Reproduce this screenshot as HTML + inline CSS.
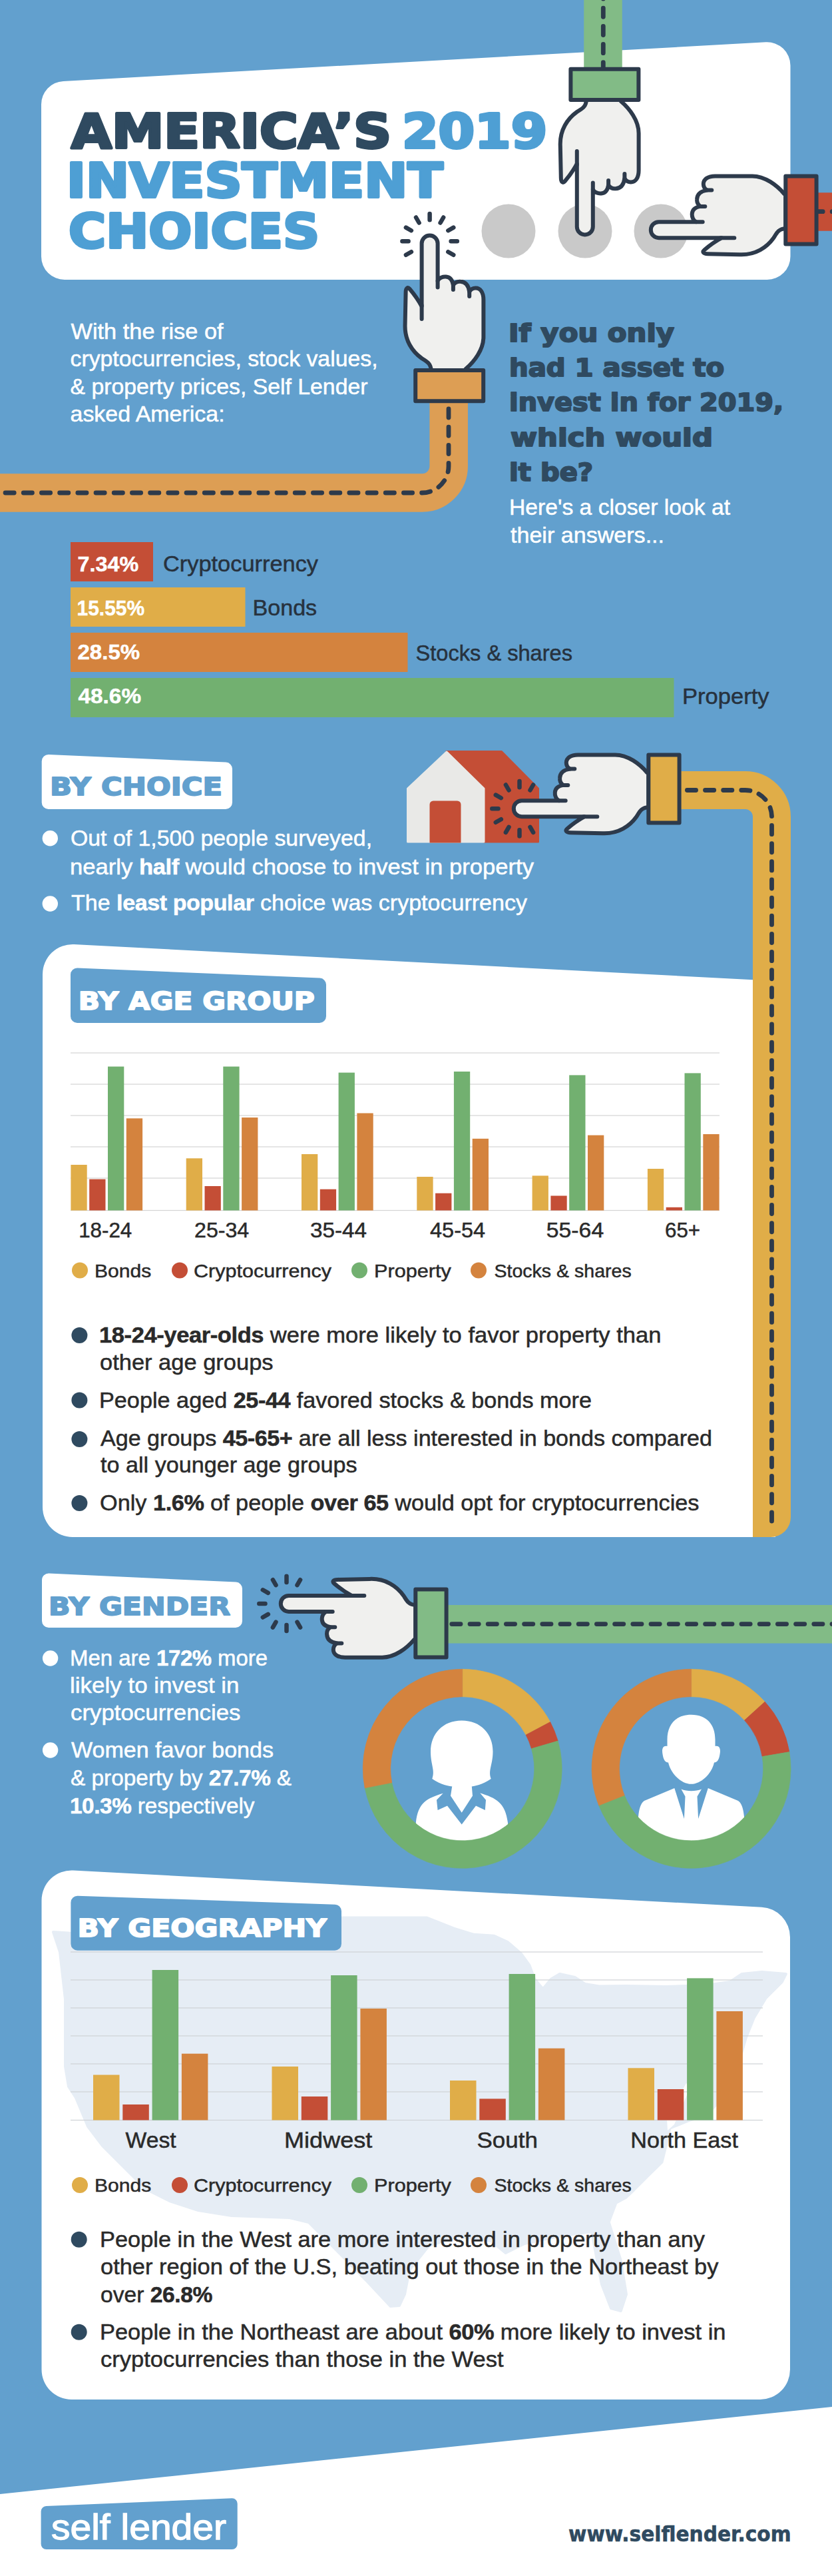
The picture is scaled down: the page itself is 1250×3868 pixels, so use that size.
<!DOCTYPE html>
<html lang="en"><head><meta charset="utf-8"><title>America's 2019 Investment Choices</title>
<style>html,body{margin:0;padding:0;background:#62a0ce}svg{display:block}</style></head>
<body>
<svg width="1250" height="3868" viewBox="0 0 1250 3868" role="img" aria-label="America's 2019 investment choices infographic">
<rect width="1250" height="3868" fill="#62a0ce"/>
<path d="M62.0,156.8 A35.0,35.0 0 0 1 95.1,121.9 L1150.6,63.3 A35.0,35.0 0 0 1 1187.5,98.2 L1187.5,385.0 A35.0,35.0 0 0 1 1152.5,420.0 L97.0,420.0 A35.0,35.0 0 0 1 62.0,385.0 Z" fill="#fff"/>
<circle cx="764" cy="347" r="40.5" fill="#c9c9c9"/>
<circle cx="879" cy="347" r="40.5" fill="#c9c9c9"/>
<circle cx="993" cy="347" r="40.5" fill="#c9c9c9"/>
<text x="107.00" y="221.5" font-family="'DejaVu Sans', 'Liberation Sans', sans-serif" font-size="71.5" fill="#2f4a60" font-weight="bold" textLength="481.01" lengthAdjust="spacingAndGlyphs" stroke="#2f4a60" stroke-width="4" stroke-linejoin="round">AMERICA’S</text>
<text x="604.00" y="221.5" font-family="'DejaVu Sans', 'Liberation Sans', sans-serif" font-size="71.5" fill="#4e9fd4" font-weight="bold" textLength="218.24" lengthAdjust="spacingAndGlyphs" stroke="#4e9fd4" stroke-width="4" stroke-linejoin="round">2019</text>
<text x="100.00" y="296.0" font-family="'DejaVu Sans', 'Liberation Sans', sans-serif" font-size="71.5" fill="#4e9fd4" font-weight="bold" textLength="565.53" lengthAdjust="spacingAndGlyphs" stroke="#4e9fd4" stroke-width="4" stroke-linejoin="round">INVESTMENT</text>
<text x="103.00" y="372.0" font-family="'DejaVu Sans', 'Liberation Sans', sans-serif" font-size="71.5" fill="#4e9fd4" font-weight="bold" textLength="377.07" lengthAdjust="spacingAndGlyphs" stroke="#4e9fd4" stroke-width="4" stroke-linejoin="round">CHOICES</text>
<path d="M906,-30 L906,110" fill="none" stroke="#82bb86" stroke-width="57.5"/>
<path d="M906.3,-42.3 L906.3,110" fill="none" stroke="#2d3a4b" stroke-width="6.8" stroke-linecap="round" stroke-dasharray="13.2 14"/>
<path d="M1270,317.9 L1225,317.9" fill="none" stroke="#c44e36" stroke-width="57.5"/>
<path d="M1263.4,317.7 L1222,317.7" fill="none" stroke="#2d3a4b" stroke-width="6.8" stroke-linecap="round" stroke-dasharray="13.2 14"/>
<path d="M674.2,590 L674.2,700 A40,40 0 0 1 634.2,740 L-20,740" fill="none" stroke="#dd9e54" stroke-width="57.5"/>
<path d="M674,586.7 L674,700 A40,40 0 0 1 634,740 L-20,740" fill="none" stroke="#2d3a4b" stroke-width="6.8" stroke-linecap="round" stroke-dasharray="13.2 14"/>
<g transform="matrix(1,0,0,-1,878.8,153)">
<path d="M2,3 C2,-8 -6,-11 -12,-15 C-26,-25 -38,-42 -37,-66 L-36,-114 C-36,-121 -33,-122.5 -30,-119 Q-19,-106 -12,-93 L-12,-187.5 A12,12 0 0 1 12,-187.5 L12,-131.3 C14,-136 20,-138 24.5,-137.5 C30,-137 34,-133 35.3,-125 C38,-129 42,-130.5 46,-130.2 C53,-130 58,-126 59.6,-115 C62,-119 66,-120.5 69,-120.5 C76,-120.5 80.8,-114 80.8,-103 L80.8,-47 C80.8,-28 67,-10 54,1 L54,3 Z" fill="#f0f0ee" stroke="#2d3a4b" stroke-width="6" stroke-linejoin="round"/>
<path d="M-12,-94.5 L-12,-74 M12,-131.3 L12,-121.6 M35.3,-125 L35.3,-118 M59.6,-115 L59.6,-108" fill="none" stroke="#2d3a4b" stroke-width="6" stroke-linecap="round"/>
<rect x="-21.4" y="3" width="102" height="46.3" fill="#82bb86" stroke="#2d3a4b" stroke-width="6" stroke-linejoin="round"/>
</g>
<g transform="matrix(0,-1,1,0,1177.3,345.2)">
<path d="M2,3 C2,-8 -6,-11 -12,-15 C-26,-25 -38,-42 -37,-66 L-36,-114 C-36,-121 -33,-122.5 -30,-119 Q-19,-106 -12,-93 L-12,-187.5 A12,12 0 0 1 12,-187.5 L12,-131.3 C14,-136 20,-138 24.5,-137.5 C30,-137 34,-133 35.3,-125 C38,-129 42,-130.5 46,-130.2 C53,-130 58,-126 59.6,-115 C62,-119 66,-120.5 69,-120.5 C76,-120.5 80.8,-114 80.8,-103 L80.8,-47 C80.8,-28 67,-10 54,1 L54,3 Z" fill="#f0f0ee" stroke="#2d3a4b" stroke-width="6" stroke-linejoin="round"/>
<path d="M-12,-94.5 L-12,-74 M12,-131.3 L12,-121.6 M35.3,-125 L35.3,-118 M59.6,-115 L59.6,-108" fill="none" stroke="#2d3a4b" stroke-width="6" stroke-linecap="round"/>
<rect x="-21.4" y="3" width="102" height="46.3" fill="#c44e36" stroke="#2d3a4b" stroke-width="6" stroke-linejoin="round"/>
</g>
<g transform="matrix(1,0,0,1,645.6,553)">
<path d="M2,3 C2,-8 -6,-11 -12,-15 C-26,-25 -38,-42 -37,-66 L-36,-114 C-36,-121 -33,-122.5 -30,-119 Q-19,-106 -12,-93 L-12,-187.5 A12,12 0 0 1 12,-187.5 L12,-131.3 C14,-136 20,-138 24.5,-137.5 C30,-137 34,-133 35.3,-125 C38,-129 42,-130.5 46,-130.2 C53,-130 58,-126 59.6,-115 C62,-119 66,-120.5 69,-120.5 C76,-120.5 80.8,-114 80.8,-103 L80.8,-47 C80.8,-28 67,-10 54,1 L54,3 Z" fill="#f0f0ee" stroke="#2d3a4b" stroke-width="6" stroke-linejoin="round"/>
<path d="M-12,-94.5 L-12,-74 M12,-131.3 L12,-121.6 M35.3,-125 L35.3,-118 M59.6,-115 L59.6,-108" fill="none" stroke="#2d3a4b" stroke-width="6" stroke-linecap="round"/>
<rect x="-21.4" y="3" width="102" height="46.3" fill="#dd9e54" stroke="#2d3a4b" stroke-width="6" stroke-linejoin="round"/>
<path d="M-27.7,-174.8 L-35.7,-170.2 M-32.0,-190.8 L-41.2,-190.8 M-27.7,-206.8 L-35.7,-211.4 M-16.0,-218.5 L-20.6,-226.5 M0.0,-222.8 L0.0,-232.0 M16.0,-218.5 L20.6,-226.5 M27.7,-206.8 L35.7,-211.4 M32.0,-190.8 L41.2,-190.8 M27.7,-174.8 L35.7,-170.2" fill="none" stroke="#2d3a4b" stroke-width="6.5" stroke-linecap="round"/>
</g>
<text x="106.50" y="508.5" font-family="'Liberation Sans', Arial, sans-serif" font-size="32.5" fill="#fff" textLength="229.07" lengthAdjust="spacingAndGlyphs" stroke="#fff" stroke-width="0.5">With the rise of</text>
<text x="105.50" y="550.1" font-family="'Liberation Sans', Arial, sans-serif" font-size="32.5" fill="#fff" textLength="462.04" lengthAdjust="spacingAndGlyphs" stroke="#fff" stroke-width="0.5">cryptocurrencies, stock values,</text>
<text x="105.50" y="591.7" font-family="'Liberation Sans', Arial, sans-serif" font-size="32.5" fill="#fff" textLength="447.00" lengthAdjust="spacingAndGlyphs" stroke="#fff" stroke-width="0.5">&amp; property prices, Self Lender</text>
<text x="105.50" y="633.3" font-family="'Liberation Sans', Arial, sans-serif" font-size="32.5" fill="#fff" textLength="232.07" lengthAdjust="spacingAndGlyphs" stroke="#fff" stroke-width="0.5">asked America:</text>
<text x="764.00" y="513.2" font-family="'DejaVu Sans', 'Liberation Sans', sans-serif" font-size="36.8" fill="#2f4a60" font-weight="bold" textLength="249.04" lengthAdjust="spacingAndGlyphs" stroke="#2f4a60" stroke-width="2" stroke-linejoin="round">If you only</text>
<text x="765.00" y="565.3" font-family="'DejaVu Sans', 'Liberation Sans', sans-serif" font-size="36.8" fill="#2f4a60" font-weight="bold" textLength="323.03" lengthAdjust="spacingAndGlyphs" stroke="#2f4a60" stroke-width="2" stroke-linejoin="round">had 1 asset to</text>
<text x="765.00" y="617.4" font-family="'DejaVu Sans', 'Liberation Sans', sans-serif" font-size="36.8" fill="#2f4a60" font-weight="bold" textLength="412.06" lengthAdjust="spacingAndGlyphs" stroke="#2f4a60" stroke-width="2" stroke-linejoin="round">invest in for 2019,</text>
<text x="767.00" y="669.5" font-family="'DejaVu Sans', 'Liberation Sans', sans-serif" font-size="36.8" fill="#2f4a60" font-weight="bold" textLength="304.01" lengthAdjust="spacingAndGlyphs" stroke="#2f4a60" stroke-width="2" stroke-linejoin="round">which would</text>
<text x="765.00" y="721.6" font-family="'DejaVu Sans', 'Liberation Sans', sans-serif" font-size="36.8" fill="#2f4a60" font-weight="bold" textLength="126.12" lengthAdjust="spacingAndGlyphs" stroke="#2f4a60" stroke-width="2" stroke-linejoin="round">it be?</text>
<text x="765.00" y="772.5" font-family="'Liberation Sans', Arial, sans-serif" font-size="32.5" fill="#fff" textLength="332.01" lengthAdjust="spacingAndGlyphs" stroke="#fff" stroke-width="0.5">Here&#x27;s a closer look at</text>
<text x="767.00" y="814.5" font-family="'Liberation Sans', Arial, sans-serif" font-size="32.5" fill="#fff" textLength="231.04" lengthAdjust="spacingAndGlyphs" stroke="#fff" stroke-width="0.5">their answers...</text>
<rect x="106" y="814" width="124.0" height="59" fill="#c44e36"/>
<text x="116.50" y="857.7" font-family="'Liberation Sans', Arial, sans-serif" font-size="32.0" fill="#fff" font-weight="bold" textLength="91.64" lengthAdjust="spacingAndGlyphs" stroke="#fff" stroke-width="0.5">7.34%</text>
<text x="245.00" y="858.0" font-family="'Liberation Sans', Arial, sans-serif" font-size="32.5" fill="#27323e" textLength="233.00" lengthAdjust="spacingAndGlyphs" stroke="#27323e" stroke-width="0.5">Cryptocurrency</text>
<rect x="106" y="882" width="262.5" height="59" fill="#e0ad48"/>
<text x="115.50" y="924.0" font-family="'Liberation Sans', Arial, sans-serif" font-size="32.0" fill="#fff" font-weight="bold" textLength="101.69" lengthAdjust="spacingAndGlyphs" stroke="#fff" stroke-width="0.5">15.55%</text>
<text x="379.50" y="924.0" font-family="'Liberation Sans', Arial, sans-serif" font-size="32.5" fill="#27323e" textLength="96.66" lengthAdjust="spacingAndGlyphs" stroke="#27323e" stroke-width="0.5">Bonds</text>
<rect x="106" y="950" width="506.5" height="59" fill="#d4833e"/>
<text x="116.50" y="990.0" font-family="'Liberation Sans', Arial, sans-serif" font-size="32.0" fill="#fff" font-weight="bold" textLength="93.65" lengthAdjust="spacingAndGlyphs" stroke="#fff" stroke-width="0.5">28.5%</text>
<text x="624.50" y="991.6" font-family="'Liberation Sans', Arial, sans-serif" font-size="32.5" fill="#27323e" textLength="235.54" lengthAdjust="spacingAndGlyphs" stroke="#27323e" stroke-width="0.5">Stocks &amp; shares</text>
<rect x="106" y="1018" width="906.5" height="59" fill="#72b070"/>
<text x="117.50" y="1056.0" font-family="'Liberation Sans', Arial, sans-serif" font-size="32.0" fill="#fff" font-weight="bold" textLength="94.56" lengthAdjust="spacingAndGlyphs" stroke="#fff" stroke-width="0.5">48.6%</text>
<text x="1025.00" y="1057.0" font-family="'Liberation Sans', Arial, sans-serif" font-size="32.5" fill="#27323e" textLength="130.56" lengthAdjust="spacingAndGlyphs" stroke="#27323e" stroke-width="0.5">Property</text>
<path d="M62.7,1143.0 A10.0,10.0 0 0 1 73.1,1133.1 L339.4,1144.6 A10.0,10.0 0 0 1 349.0,1154.6 L349.0,1205.0 A10.0,10.0 0 0 1 339.0,1215.0 L72.7,1215.0 A10.0,10.0 0 0 1 62.7,1205.0 Z" fill="#fff"/>
<text x="75.00" y="1194.0" font-family="'DejaVu Sans', 'Liberation Sans', sans-serif" font-size="37.2" fill="#62a0ce" font-weight="bold" textLength="259.10" lengthAdjust="spacingAndGlyphs" stroke="#62a0ce" stroke-width="1.8" stroke-linejoin="round">BY CHOICE</text>
<circle cx="75.3" cy="1258.8" r="11.7" fill="#fff"/>
<circle cx="75.3" cy="1357" r="11.7" fill="#fff"/>
<text x="106.00" y="1270.4" font-family="'Liberation Sans', Arial, sans-serif" font-size="32.5" fill="#fff" textLength="453.04" lengthAdjust="spacingAndGlyphs" stroke="#fff" stroke-width="0.5">Out of 1,500 people surveyed,</text>
<text x="105.00" y="1312.8" font-family="'Liberation Sans', Arial, sans-serif" font-size="32.5" fill="#fff" textLength="697.01" lengthAdjust="spacingAndGlyphs" stroke="#fff" stroke-width="0.5">nearly <tspan font-weight="bold" letter-spacing="-0.4">half</tspan> would choose to invest in property</text>
<text x="107.00" y="1367.0" font-family="'Liberation Sans', Arial, sans-serif" font-size="32.5" fill="#fff" textLength="685.00" lengthAdjust="spacingAndGlyphs" stroke="#fff" stroke-width="0.5">The <tspan font-weight="bold" letter-spacing="-0.4">least popular</tspan> choice was cryptocurrency</text>
<path d="M671,1128.5 L753.5,1128.5 L808.5,1184 L808.5,1264 L727,1264 L727,1183 Z" fill="#c44e36" stroke="#c44e36" stroke-width="3" stroke-linejoin="round"/>
<path d="M671,1129 L727,1184 L727,1264 L612.5,1264 L612.5,1184 Z" fill="#e9e9e7" stroke="#e9e9e7" stroke-width="3" stroke-linejoin="round"/>
<path d="M645.5,1265.5 L645.5,1208 a5.5,5.5 0 0 1 5.5,-5.5 L687,1202.5 a5.5,5.5 0 0 1 5.5,5.5 L692.5,1265.5 Z" fill="#c44e36"/>
<path d="M1020,1186.5 L1119.5,1186.5 A40,40 0 0 1 1159.5,1226.5 L1159.5,1480" fill="none" stroke="#e0ad48" stroke-width="57"/>
<g transform="matrix(0,-1,1,0,971.3,1214.2)">
<path d="M2,3 C2,-8 -6,-11 -12,-15 C-26,-25 -38,-42 -37,-66 L-36,-114 C-36,-121 -33,-122.5 -30,-119 Q-19,-106 -12,-93 L-12,-187.5 A12,12 0 0 1 12,-187.5 L12,-131.3 C14,-136 20,-138 24.5,-137.5 C30,-137 34,-133 35.3,-125 C38,-129 42,-130.5 46,-130.2 C53,-130 58,-126 59.6,-115 C62,-119 66,-120.5 69,-120.5 C76,-120.5 80.8,-114 80.8,-103 L80.8,-47 C80.8,-28 67,-10 54,1 L54,3 Z" fill="#f0f0ee" stroke="#2d3a4b" stroke-width="6" stroke-linejoin="round"/>
<path d="M-12,-94.5 L-12,-74 M12,-131.3 L12,-121.6 M35.3,-125 L35.3,-118 M59.6,-115 L59.6,-108" fill="none" stroke="#2d3a4b" stroke-width="6" stroke-linecap="round"/>
<rect x="-21.4" y="3" width="102" height="46.3" fill="#e0ad48" stroke="#2d3a4b" stroke-width="6" stroke-linejoin="round"/>
<path d="M-27.7,-174.8 L-35.7,-170.2 M-32.0,-190.8 L-41.2,-190.8 M-27.7,-206.8 L-35.7,-211.4 M-16.0,-218.5 L-20.6,-226.5 M0.0,-222.8 L0.0,-232.0 M16.0,-218.5 L20.6,-226.5 M27.7,-206.8 L35.7,-211.4 M32.0,-190.8 L41.2,-190.8 M27.7,-174.8 L35.7,-170.2" fill="none" stroke="#2d3a4b" stroke-width="6.5" stroke-linecap="round"/>
</g>
<path d="M64.0,1462.9 A45.0,45.0 0 0 1 111.3,1418.0 L1165.0,1473.0 L1165.0,2308.0 L109.0,2308.0 A45.0,45.0 0 0 1 64.0,2263.0 Z" fill="#fff"/>
<path d="M1131,1440 L1188,1440 L1188,2278 A30,30 0 0 1 1158,2308 L1131,2308 Z" fill="#e0ad48"/>
<path d="M1159.5,2284 L1159.5,1226.5 A40,40 0 0 0 1119.5,1186.5 L1032.4,1186.5" fill="none" stroke="#2d3a4b" stroke-width="6.8" stroke-linecap="round" stroke-dasharray="13.2 13.94"/>
<path d="M106.0,1463.4 A10.0,10.0 0 0 1 116.4,1453.4 L480.4,1468.6 A10.0,10.0 0 0 1 490.0,1478.6 L490.0,1526.0 A10.0,10.0 0 0 1 480.0,1536.0 L116.0,1536.0 A10.0,10.0 0 0 1 106.0,1526.0 Z" fill="#62a0ce"/>
<text x="117.80" y="1516.0" font-family="'DejaVu Sans', 'Liberation Sans', sans-serif" font-size="37.2" fill="#fff" font-weight="bold" textLength="355.04" lengthAdjust="spacingAndGlyphs" stroke="#fff" stroke-width="1.8" stroke-linejoin="round">BY AGE GROUP</text>
<rect x="106" y="1580.4" width="975" height="1.2" fill="#d4d4d4"/>
<rect x="106" y="1627.4" width="975" height="1.2" fill="#d4d4d4"/>
<rect x="106" y="1674.4" width="975" height="1.2" fill="#d4d4d4"/>
<rect x="106" y="1721.4" width="975" height="1.2" fill="#d4d4d4"/>
<rect x="106" y="1768.4" width="975" height="1.2" fill="#d4d4d4"/>
<rect x="106" y="1816.9" width="975" height="1.2" fill="#d4d4d4"/>
<rect x="106.4" y="1749.0" width="24.3" height="68.5" fill="#e0ad48"/>
<rect x="134.2" y="1770.6" width="24.3" height="46.9" fill="#c44e36"/>
<rect x="162.0" y="1601.5" width="24.3" height="216.0" fill="#72b070"/>
<rect x="189.8" y="1679.3" width="24.3" height="138.2" fill="#d4833e"/>
<text x="118.20" y="1858.0" font-family="'Liberation Sans', Arial, sans-serif" font-size="31.0" fill="#2a2a2a" textLength="79.99" lengthAdjust="spacingAndGlyphs" stroke="#2a2a2a" stroke-width="0.5">18-24</text>
<rect x="279.7" y="1739.3" width="24.3" height="78.2" fill="#e0ad48"/>
<rect x="307.5" y="1781.0" width="24.3" height="36.5" fill="#c44e36"/>
<rect x="335.3" y="1601.5" width="24.3" height="216.0" fill="#72b070"/>
<rect x="363.1" y="1678.0" width="24.3" height="139.5" fill="#d4833e"/>
<text x="292.00" y="1858.0" font-family="'Liberation Sans', Arial, sans-serif" font-size="31.0" fill="#2a2a2a" textLength="82.25" lengthAdjust="spacingAndGlyphs" stroke="#2a2a2a" stroke-width="0.5">25-34</text>
<rect x="453.0" y="1733.0" width="24.3" height="84.5" fill="#e0ad48"/>
<rect x="480.8" y="1785.7" width="24.3" height="31.8" fill="#c44e36"/>
<rect x="508.6" y="1610.6" width="24.3" height="206.9" fill="#72b070"/>
<rect x="536.4" y="1671.5" width="24.3" height="146.0" fill="#d4833e"/>
<text x="465.90" y="1858.0" font-family="'Liberation Sans', Arial, sans-serif" font-size="31.0" fill="#2a2a2a" textLength="85.17" lengthAdjust="spacingAndGlyphs" stroke="#2a2a2a" stroke-width="0.5">35-44</text>
<rect x="626.3" y="1767.0" width="24.3" height="50.5" fill="#e0ad48"/>
<rect x="654.1" y="1791.7" width="24.3" height="25.8" fill="#c44e36"/>
<rect x="681.9" y="1609.0" width="24.3" height="208.5" fill="#72b070"/>
<rect x="709.7" y="1709.8" width="24.3" height="107.7" fill="#d4833e"/>
<text x="646.00" y="1858.0" font-family="'Liberation Sans', Arial, sans-serif" font-size="31.0" fill="#2a2a2a" textLength="83.12" lengthAdjust="spacingAndGlyphs" stroke="#2a2a2a" stroke-width="0.5">45-54</text>
<rect x="799.6" y="1765.4" width="24.3" height="52.1" fill="#e0ad48"/>
<rect x="827.4" y="1795.5" width="24.3" height="22.0" fill="#c44e36"/>
<rect x="855.2" y="1614.4" width="24.3" height="203.1" fill="#72b070"/>
<rect x="883.0" y="1704.6" width="24.3" height="112.9" fill="#d4833e"/>
<text x="820.80" y="1858.0" font-family="'Liberation Sans', Arial, sans-serif" font-size="31.0" fill="#2a2a2a" textLength="86.37" lengthAdjust="spacingAndGlyphs" stroke="#2a2a2a" stroke-width="0.5">55-64</text>
<rect x="972.9" y="1755.0" width="24.3" height="62.5" fill="#e0ad48"/>
<rect x="1000.7" y="1812.8" width="24.3" height="4.7" fill="#c44e36"/>
<rect x="1028.5" y="1611.4" width="24.3" height="206.1" fill="#72b070"/>
<rect x="1056.3" y="1703.0" width="24.3" height="114.5" fill="#d4833e"/>
<text x="999.10" y="1858.0" font-family="'Liberation Sans', Arial, sans-serif" font-size="31.0" fill="#2a2a2a" textLength="53.05" lengthAdjust="spacingAndGlyphs" stroke="#2a2a2a" stroke-width="0.5">65+</text>
<circle cx="120" cy="1907.5" r="12" fill="#e0ad48"/>
<text x="142.00" y="1917.5" font-family="'Liberation Sans', Arial, sans-serif" font-size="28.5" fill="#2a2a2a" textLength="85.22" lengthAdjust="spacingAndGlyphs" stroke="#2a2a2a" stroke-width="0.5">Bonds</text>
<circle cx="270" cy="1907.5" r="12" fill="#c44e36"/>
<text x="291.00" y="1917.5" font-family="'Liberation Sans', Arial, sans-serif" font-size="28.5" fill="#2a2a2a" textLength="207.06" lengthAdjust="spacingAndGlyphs" stroke="#2a2a2a" stroke-width="0.5">Cryptocurrency</text>
<circle cx="540" cy="1907.5" r="12" fill="#72b070"/>
<text x="562.00" y="1917.5" font-family="'Liberation Sans', Arial, sans-serif" font-size="28.5" fill="#2a2a2a" textLength="115.88" lengthAdjust="spacingAndGlyphs" stroke="#2a2a2a" stroke-width="0.5">Property</text>
<circle cx="719" cy="1907.5" r="12" fill="#d4833e"/>
<text x="742.50" y="1917.5" font-family="'Liberation Sans', Arial, sans-serif" font-size="28.5" fill="#2a2a2a" textLength="206.18" lengthAdjust="spacingAndGlyphs" stroke="#2a2a2a" stroke-width="0.5">Stocks &amp; shares</text>
<circle cx="119.4" cy="2005.0" r="12" fill="#2f4a60"/>
<circle cx="119.4" cy="2102.5" r="12" fill="#2f4a60"/>
<circle cx="119.4" cy="2161.0" r="12" fill="#2f4a60"/>
<circle cx="119.4" cy="2257.0" r="12" fill="#2f4a60"/>
<text x="149.00" y="2016.0" font-family="'Liberation Sans', Arial, sans-serif" font-size="32.5" fill="#2a2a2a" textLength="844.52" lengthAdjust="spacingAndGlyphs" stroke="#2a2a2a" stroke-width="0.5"><tspan font-weight="bold" letter-spacing="-0.4">18-24-year-olds</tspan> were more likely to favor property than</text>
<text x="150.00" y="2057.0" font-family="'Liberation Sans', Arial, sans-serif" font-size="32.5" fill="#2a2a2a" textLength="260.53" lengthAdjust="spacingAndGlyphs" stroke="#2a2a2a" stroke-width="0.5">other age groups</text>
<text x="149.00" y="2113.7" font-family="'Liberation Sans', Arial, sans-serif" font-size="32.5" fill="#2a2a2a" textLength="740.01" lengthAdjust="spacingAndGlyphs" stroke="#2a2a2a" stroke-width="0.5">People aged <tspan font-weight="bold" letter-spacing="-0.4">25-44</tspan> favored stocks &amp; bonds more</text>
<text x="151.00" y="2171.0" font-family="'Liberation Sans', Arial, sans-serif" font-size="32.5" fill="#2a2a2a" textLength="919.00" lengthAdjust="spacingAndGlyphs" stroke="#2a2a2a" stroke-width="0.5">Age groups <tspan font-weight="bold" letter-spacing="-0.4">45-65+</tspan> are all less interested in bonds compared</text>
<text x="151.00" y="2211.0" font-family="'Liberation Sans', Arial, sans-serif" font-size="32.5" fill="#2a2a2a" textLength="385.51" lengthAdjust="spacingAndGlyphs" stroke="#2a2a2a" stroke-width="0.5">to all younger age groups</text>
<text x="150.00" y="2268.0" font-family="'Liberation Sans', Arial, sans-serif" font-size="32.5" fill="#2a2a2a" textLength="900.51" lengthAdjust="spacingAndGlyphs" stroke="#2a2a2a" stroke-width="0.5">Only <tspan font-weight="bold" letter-spacing="-0.4">1.6%</tspan> of people <tspan font-weight="bold" letter-spacing="-0.4">over 65</tspan> would opt for cryptocurrencies</text>
<path d="M63.0,2372.5 A10.0,10.0 0 0 1 73.5,2362.5 L354.5,2375.6 A10.0,10.0 0 0 1 364.0,2385.5 L364.0,2434.0 A10.0,10.0 0 0 1 354.0,2444.0 L73.0,2444.0 A10.0,10.0 0 0 1 63.0,2434.0 Z" fill="#fff"/>
<text x="73.00" y="2425.0" font-family="'DejaVu Sans', 'Liberation Sans', sans-serif" font-size="37.2" fill="#62a0ce" font-weight="bold" textLength="273.03" lengthAdjust="spacingAndGlyphs" stroke="#62a0ce" stroke-width="1.8" stroke-linejoin="round">BY GENDER</text>
<circle cx="75.6" cy="2490" r="11.7" fill="#fff"/>
<circle cx="75.6" cy="2628" r="11.7" fill="#fff"/>
<text x="105.00" y="2500.6" font-family="'Liberation Sans', Arial, sans-serif" font-size="32.5" fill="#fff" textLength="297.03" lengthAdjust="spacingAndGlyphs" stroke="#fff" stroke-width="0.5">Men are <tspan font-weight="bold" letter-spacing="-0.4">172%</tspan> more</text>
<text x="105.00" y="2541.5" font-family="'Liberation Sans', Arial, sans-serif" font-size="32.5" fill="#fff" textLength="254.57" lengthAdjust="spacingAndGlyphs" stroke="#fff" stroke-width="0.5">likely to invest in</text>
<text x="106.00" y="2582.5" font-family="'Liberation Sans', Arial, sans-serif" font-size="32.5" fill="#fff" textLength="255.53" lengthAdjust="spacingAndGlyphs" stroke="#fff" stroke-width="0.5">cryptocurrencies</text>
<text x="107.00" y="2638.7" font-family="'Liberation Sans', Arial, sans-serif" font-size="32.5" fill="#fff" textLength="304.00" lengthAdjust="spacingAndGlyphs" stroke="#fff" stroke-width="0.5">Women favor bonds</text>
<text x="106.00" y="2680.6" font-family="'Liberation Sans', Arial, sans-serif" font-size="32.5" fill="#fff" textLength="332.00" lengthAdjust="spacingAndGlyphs" stroke="#fff" stroke-width="0.5">&amp; property by <tspan font-weight="bold" letter-spacing="-0.4">27.7%</tspan> &amp;</text>
<text x="105.00" y="2722.5" font-family="'Liberation Sans', Arial, sans-serif" font-size="32.5" fill="#fff" textLength="277.53" lengthAdjust="spacingAndGlyphs" stroke="#fff" stroke-width="0.5"><tspan font-weight="bold" letter-spacing="-0.4">10.3%</tspan> respectively</text>
<path d="M660,2438.7 L1270,2438.7" fill="none" stroke="#82bb86" stroke-width="57.5"/>
<path d="M678.8,2438.6 L1270,2438.6" fill="none" stroke="#2d3a4b" stroke-width="6.8" stroke-linecap="round" stroke-dasharray="13.2 14"/>
<g transform="matrix(0,1,1,0,621.3,2407.9)">
<path d="M2,3 C2,-8 -6,-11 -12,-15 C-26,-25 -38,-42 -37,-66 L-36,-114 C-36,-121 -33,-122.5 -30,-119 Q-19,-106 -12,-93 L-12,-187.5 A12,12 0 0 1 12,-187.5 L12,-131.3 C14,-136 20,-138 24.5,-137.5 C30,-137 34,-133 35.3,-125 C38,-129 42,-130.5 46,-130.2 C53,-130 58,-126 59.6,-115 C62,-119 66,-120.5 69,-120.5 C76,-120.5 80.8,-114 80.8,-103 L80.8,-47 C80.8,-28 67,-10 54,1 L54,3 Z" fill="#f0f0ee" stroke="#2d3a4b" stroke-width="6" stroke-linejoin="round"/>
<path d="M-12,-94.5 L-12,-74 M12,-131.3 L12,-121.6 M35.3,-125 L35.3,-118 M59.6,-115 L59.6,-108" fill="none" stroke="#2d3a4b" stroke-width="6" stroke-linecap="round"/>
<rect x="-21.4" y="3" width="102" height="46.3" fill="#82bb86" stroke="#2d3a4b" stroke-width="6" stroke-linejoin="round"/>
<path d="M-27.7,-174.8 L-35.7,-170.2 M-32.0,-190.8 L-41.2,-190.8 M-27.7,-206.8 L-35.7,-211.4 M-16.0,-218.5 L-20.6,-226.5 M0.0,-222.8 L0.0,-232.0 M16.0,-218.5 L20.6,-226.5 M27.7,-206.8 L35.7,-211.4 M32.0,-190.8 L41.2,-190.8 M27.7,-174.8 L35.7,-170.2" fill="none" stroke="#2d3a4b" stroke-width="6.5" stroke-linecap="round"/>
</g>
<clipPath id="cf"><circle cx="694.7" cy="2655.8" r="108.5"/></clipPath>
<g clip-path="url(#cf)" fill="#fff">
<path d="M693.7,2583.4 C722,2583.4 740.5,2603 740.5,2630 C740.5,2650 733,2658 737.7,2671 C725,2680 712,2682 708.6,2682.6 L679.6,2682.6 C675,2682 662,2680 649.3,2671 C654,2658 647,2650 647,2630 C647,2603 665.5,2583.4 693.7,2583.4 Z"/>
<path d="M679.6,2680 L708.6,2680 L710,2696.5 L693.7,2721.7 L677,2696.5 Z"/>
<path d="M665.7,2692.7 L656,2702.8 L657.6,2718 L672,2711.6 L693.7,2739.4 L715,2711.6 L728.8,2718 L730,2702.8 L721.2,2692.2 C745,2700 759,2706 763,2737 L763,2780 L624,2780 L624.8,2737 C628,2706 642,2700 665.7,2692.7 Z"/>
</g>
<path d="M694.70,2506.30 A149.5,149.5 0 0 1 826.70,2585.61 L790.06,2605.10 A108,108 0 0 0 694.70,2547.80 Z" fill="#e0ad48" stroke="#e0ad48" stroke-width="0.6"/>
<path d="M826.70,2585.61 A149.5,149.5 0 0 1 838.26,2614.09 L798.41,2625.67 A108,108 0 0 0 790.06,2605.10 Z" fill="#c44e36" stroke="#c44e36" stroke-width="0.6"/>
<path d="M838.26,2614.09 A149.5,149.5 0 1 1 548.05,2684.84 L588.76,2676.78 A108,108 0 1 0 798.41,2625.67 Z" fill="#72b070" stroke="#72b070" stroke-width="0.6"/>
<path d="M548.05,2684.84 A149.5,149.5 0 0 1 694.70,2506.30 L694.70,2547.80 A108,108 0 0 0 588.76,2676.78 Z" fill="#d4833e" stroke="#d4833e" stroke-width="0.6"/>
<clipPath id="cm"><circle cx="1038.6" cy="2655.8" r="108.5"/></clipPath>
<g clip-path="url(#cm)" fill="#fff">
<path d="M1038.5,2574.8 C1062,2574.8 1074.5,2590 1074.5,2612 L1074.5,2622 C1081,2620.5 1083,2626 1081.5,2634 C1080.5,2641 1078,2646.5 1073,2646.5 C1069,2664 1053,2678.8 1038.5,2678.8 C1024,2678.8 1008,2664 1004,2646.5 C999,2646.5 996.5,2641 995.5,2634 C994,2626 996,2620.5 1002.5,2622 L1002.5,2612 C1002.5,2590 1015,2574.8 1038.5,2574.8 Z"/>
<path d="M1013.3,2685 L967.9,2704 C962,2708 960,2718 959,2728 L955,2780 L1122,2780 L1118,2728 C1117,2718 1115,2708 1109,2704 L1063.8,2685 L1049.1,2731 L1047.5,2697.5 L1054,2686.5 C1045,2690 1032,2690 1023.5,2686.5 L1029.5,2697.5 L1027.9,2731 Z"/>
</g>
<path d="M1038.60,2506.30 A149.5,149.5 0 0 1 1149.17,2555.18 L1118.48,2583.11 A108,108 0 0 0 1038.60,2547.80 Z" fill="#e0ad48" stroke="#e0ad48" stroke-width="0.6"/>
<path d="M1149.17,2555.18 A149.5,149.5 0 0 1 1185.96,2630.61 L1145.06,2637.60 A108,108 0 0 0 1118.48,2583.11 Z" fill="#c44e36" stroke="#c44e36" stroke-width="0.6"/>
<path d="M1185.96,2630.61 A149.5,149.5 0 0 1 899.69,2711.08 L938.25,2695.73 A108,108 0 0 0 1145.06,2637.60 Z" fill="#72b070" stroke="#72b070" stroke-width="0.6"/>
<path d="M899.69,2711.08 A149.5,149.5 0 0 1 1038.60,2506.30 L1038.60,2547.80 A108,108 0 0 0 938.25,2695.73 Z" fill="#d4833e" stroke="#d4833e" stroke-width="0.6"/>
<path d="M62.5,2853.5 A45.0,45.0 0 0 1 109.9,2808.5 L1144.4,2863.7 A45.0,45.0 0 0 1 1187.0,2908.7 L1187.0,3558.0 A45.0,45.0 0 0 1 1142.0,3603.0 L107.5,3603.0 A45.0,45.0 0 0 1 62.5,3558.0 Z" fill="#fff"/>
<path d="M80.0,2901.0 L90.0,2931.0 L98.0,3002.0 L98.0,3103.0 L103.0,3133.0 L114.0,3150.0 L132.0,3193.0 L154.0,3222.0 L183.0,3251.0 L219.0,3287.0 L255.0,3305.0 L298.0,3319.0 L348.0,3327.0 L435.0,3330.0 L464.0,3337.0 L493.0,3366.0 L521.5,3395.0 L550.0,3424.0 L586.5,3463.0 L600.0,3462.0 L608.0,3445.0 L615.0,3409.0 L644.0,3372.6 L687.5,3358.0 L738.0,3365.0 L759.6,3383.0 L788.0,3369.0 L839.0,3358.0 L889.0,3351.0 L893.0,3372.6 L904.0,3430.0 L918.0,3466.0 L932.7,3470.0 L941.0,3445.0 L932.7,3394.0 L914.7,3336.5 L925.5,3307.7 L940.0,3300.0 L952.0,3288.7 L970.0,3270.7 L994.5,3246.6 L1000.5,3222.6 L1006.5,3195.6 L1036.5,3183.5 L1060.6,3177.5 L1084.6,3150.5 L1108.7,3102.0 L1120.7,3060.0 L1132.7,3030.0 L1150.7,3000.0 L1174.8,2976.0 L1180.8,2964.0 L1144.7,2961.0 L1114.7,2964.0 L1096.6,2976.0 L1060.6,2981.0 L1000.0,2983.0 L940.0,2982.0 L900.0,2982.5 L878.8,2979.0 L863.6,2969.0 L841.0,2963.9 L828.3,2971.4 L815.7,2986.6 L803.0,2971.4 L795.5,2951.0 L783.0,2933.6 L762.7,2916.0 L742.5,2906.8 L712.0,2904.8 L682.0,2895.7 L641.5,2879.6 L513.0,2879.6 L513.0,2903.0 L110.0,2903.0 Z" fill="#e6edf5" stroke="#e6edf5" stroke-width="4" stroke-linejoin="round"/>
<path d="M1031,3128 L1037,3134 L1013,3190 L1003,3199 L1002,3182 Z" fill="#fff"/>
<path d="M106.4,2856.7 A10.0,10.0 0 0 1 116.7,2846.7 L503.3,2859.7 A10.0,10.0 0 0 1 513.0,2869.7 L513.0,2918.7 A10.0,10.0 0 0 1 503.0,2928.7 L116.4,2928.7 A10.0,10.0 0 0 1 106.4,2918.7 Z" fill="#62a0ce"/>
<text x="116.40" y="2907.8" font-family="'DejaVu Sans', 'Liberation Sans', sans-serif" font-size="37.2" fill="#fff" font-weight="bold" textLength="374.53" lengthAdjust="spacingAndGlyphs" stroke="#fff" stroke-width="1.8" stroke-linejoin="round">BY GEOGRAPHY</text>
<rect x="106" y="2930.4" width="1040" height="1.2" fill="#cfd2d6"/>
<rect x="106" y="2972.4" width="1040" height="1.2" fill="#cfd2d6"/>
<rect x="106" y="3014.4" width="1040" height="1.2" fill="#cfd2d6"/>
<rect x="106" y="3056.4" width="1040" height="1.2" fill="#cfd2d6"/>
<rect x="106" y="3098.4" width="1040" height="1.2" fill="#cfd2d6"/>
<rect x="106" y="3140.4" width="1040" height="1.2" fill="#cfd2d6"/>
<rect x="106" y="3182.9" width="1040" height="1.2" fill="#cfd2d6"/>
<rect x="140.0" y="3115.5" width="39.5" height="68.0" fill="#e0ad48"/>
<rect x="184.3" y="3160.0" width="39.5" height="23.5" fill="#c44e36"/>
<rect x="228.6" y="2958.0" width="39.5" height="225.5" fill="#72b070"/>
<rect x="272.9" y="3083.7" width="39.5" height="99.8" fill="#d4833e"/>
<text x="188.60" y="3224.5" font-family="'Liberation Sans', Arial, sans-serif" font-size="32.5" fill="#2a2a2a" textLength="76.08" lengthAdjust="spacingAndGlyphs" stroke="#2a2a2a" stroke-width="0.5">West</text>
<rect x="408.5" y="3103.0" width="39.5" height="80.5" fill="#e0ad48"/>
<rect x="452.8" y="3148.0" width="39.5" height="35.5" fill="#c44e36"/>
<rect x="497.1" y="2966.0" width="39.5" height="217.5" fill="#72b070"/>
<rect x="541.4" y="3016.0" width="39.5" height="167.5" fill="#d4833e"/>
<text x="427.10" y="3224.5" font-family="'Liberation Sans', Arial, sans-serif" font-size="32.5" fill="#2a2a2a" textLength="132.10" lengthAdjust="spacingAndGlyphs" stroke="#2a2a2a" stroke-width="0.5">Midwest</text>
<rect x="676.0" y="3124.0" width="39.5" height="59.5" fill="#e0ad48"/>
<rect x="720.3" y="3151.4" width="39.5" height="32.1" fill="#c44e36"/>
<rect x="764.6" y="2964.0" width="39.5" height="219.5" fill="#72b070"/>
<rect x="808.9" y="3075.7" width="39.5" height="107.8" fill="#d4833e"/>
<text x="716.60" y="3224.5" font-family="'Liberation Sans', Arial, sans-serif" font-size="32.5" fill="#2a2a2a" textLength="91.20" lengthAdjust="spacingAndGlyphs" stroke="#2a2a2a" stroke-width="0.5">South</text>
<rect x="943.5" y="3105.3" width="39.5" height="78.2" fill="#e0ad48"/>
<rect x="987.8" y="3137.0" width="39.5" height="46.5" fill="#c44e36"/>
<rect x="1032.1" y="2970.4" width="39.5" height="213.1" fill="#72b070"/>
<rect x="1076.4" y="3020.0" width="39.5" height="163.5" fill="#d4833e"/>
<text x="947.35" y="3224.5" font-family="'Liberation Sans', Arial, sans-serif" font-size="32.5" fill="#2a2a2a" textLength="161.56" lengthAdjust="spacingAndGlyphs" stroke="#2a2a2a" stroke-width="0.5">North East</text>
<circle cx="120" cy="3281.0" r="12" fill="#e0ad48"/>
<text x="142.00" y="3291.0" font-family="'Liberation Sans', Arial, sans-serif" font-size="28.5" fill="#2a2a2a" textLength="85.22" lengthAdjust="spacingAndGlyphs" stroke="#2a2a2a" stroke-width="0.5">Bonds</text>
<circle cx="270" cy="3281.0" r="12" fill="#c44e36"/>
<text x="291.00" y="3291.0" font-family="'Liberation Sans', Arial, sans-serif" font-size="28.5" fill="#2a2a2a" textLength="207.06" lengthAdjust="spacingAndGlyphs" stroke="#2a2a2a" stroke-width="0.5">Cryptocurrency</text>
<circle cx="540" cy="3281.0" r="12" fill="#72b070"/>
<text x="562.00" y="3291.0" font-family="'Liberation Sans', Arial, sans-serif" font-size="28.5" fill="#2a2a2a" textLength="115.88" lengthAdjust="spacingAndGlyphs" stroke="#2a2a2a" stroke-width="0.5">Property</text>
<circle cx="719" cy="3281.0" r="12" fill="#d4833e"/>
<text x="742.50" y="3291.0" font-family="'Liberation Sans', Arial, sans-serif" font-size="28.5" fill="#2a2a2a" textLength="206.18" lengthAdjust="spacingAndGlyphs" stroke="#2a2a2a" stroke-width="0.5">Stocks &amp; shares</text>
<circle cx="118.7" cy="3362.7" r="12" fill="#2f4a60"/>
<circle cx="118.7" cy="3501.7" r="12" fill="#2f4a60"/>
<text x="150.00" y="3374.0" font-family="'Liberation Sans', Arial, sans-serif" font-size="32.5" fill="#2a2a2a" textLength="909.00" lengthAdjust="spacingAndGlyphs" stroke="#2a2a2a" stroke-width="0.5">People in the West are more interested in property than any</text>
<text x="151.00" y="3415.3" font-family="'Liberation Sans', Arial, sans-serif" font-size="32.5" fill="#2a2a2a" textLength="928.50" lengthAdjust="spacingAndGlyphs" stroke="#2a2a2a" stroke-width="0.5">other region of the U.S, beating out those in the Northeast by</text>
<text x="151.00" y="3456.6" font-family="'Liberation Sans', Arial, sans-serif" font-size="32.5" fill="#2a2a2a" textLength="168.01" lengthAdjust="spacingAndGlyphs" stroke="#2a2a2a" stroke-width="0.5">over <tspan font-weight="bold" letter-spacing="-0.4">26.8%</tspan></text>
<text x="150.00" y="3513.0" font-family="'Liberation Sans', Arial, sans-serif" font-size="32.5" fill="#2a2a2a" textLength="940.52" lengthAdjust="spacingAndGlyphs" stroke="#2a2a2a" stroke-width="0.5">People in the Northeast are about <tspan font-weight="bold" letter-spacing="-0.4">60%</tspan> more likely to invest in</text>
<text x="151.00" y="3554.0" font-family="'Liberation Sans', Arial, sans-serif" font-size="32.5" fill="#2a2a2a" textLength="605.51" lengthAdjust="spacingAndGlyphs" stroke="#2a2a2a" stroke-width="0.5">cryptocurrencies than those in the West</text>
<path d="M0,3745 L1250,3614 L1250,3868 L0,3868 Z" fill="#fff"/>
<path d="M61.6,3771.0 A8.0,8.0 0 0 1 69.3,3763.0 L348.4,3751.3 A8.0,8.0 0 0 1 356.7,3759.3 L356.7,3820.0 A8.0,8.0 0 0 1 348.7,3828.0 L69.6,3828.0 A8.0,8.0 0 0 1 61.6,3820.0 Z" fill="#62a0ce"/>
<text x="77.00" y="3813.0" font-family="'Liberation Sans', Arial, sans-serif" font-size="54.0" fill="#fff" textLength="263.00" lengthAdjust="spacingAndGlyphs" stroke="#fff" stroke-width="1.3">self lender</text>
<text x="854.00" y="3815.5" font-family="'DejaVu Sans', 'Liberation Sans', sans-serif" font-size="32.0" fill="#2f4a60" font-weight="bold" textLength="334.53" lengthAdjust="spacingAndGlyphs" stroke="#2f4a60" stroke-width="0.6">www.selflender.com</text>
</svg>
</body></html>
